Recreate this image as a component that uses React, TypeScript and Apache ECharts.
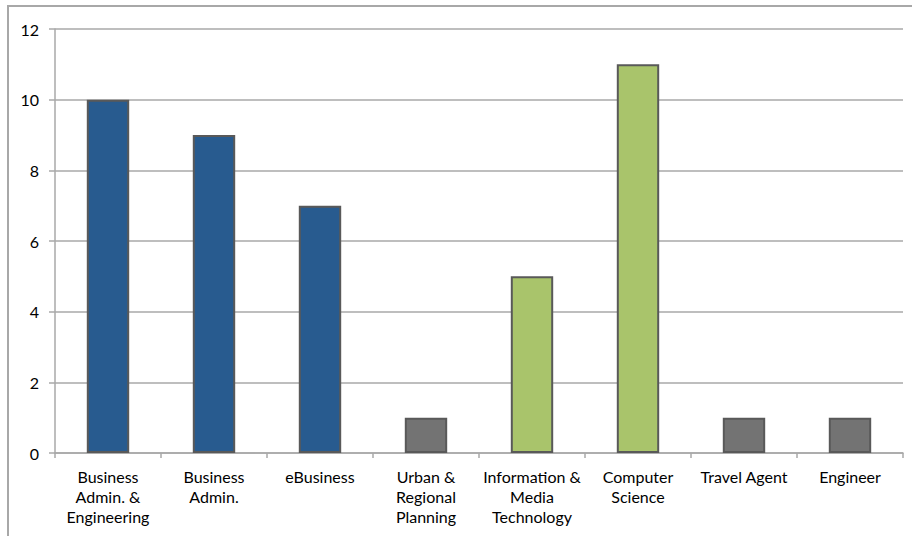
import React, { useEffect, useRef } from "react";
import * as echarts from "echarts";

const categories = [
  "Business\nAdmin. &\nEngineering",
  "Business\nAdmin.",
  "eBusiness",
  "Urban &\nRegional\nPlanning",
  "Information &\nMedia\nTechnology",
  "Computer\nScience",
  "Travel Agent",
  "Engineer",
];
const values = [10, 9, 7, 1, 5, 11, 1, 1];
const groups = ["blue", "blue", "blue", "gray", "green", "green", "gray", "gray"];
const groupColors: Record<string, string> = {
  blue: "#285B8F",
  green: "#A9C46B",
  gray: "#737373",
};
const yTicks = [0, 2, 4, 6, 8, 10, 12];

export default function App() {
  const ref = useRef<HTMLDivElement>(null);
  useEffect(() => {
    if (!ref.current) return;
    const chart = echarts.init(ref.current, null, { renderer: "svg" });
    const font = "Lato, 'Open Sans', sans-serif";
    chart.setOption({
      animation: false,
      backgroundColor: "#ffffff",
      graphic: [
        {
          type: "rect",
          z: 100,
          shape: { x: 8, y: 6, width: 1000, height: 1000 },
          style: { fill: "none", stroke: "#a8a8a8", lineWidth: 2 },
          silent: true,
        },
      ],
      grid: { left: 55, right: 9, top: 29, bottom: 83, containLabel: false },
      xAxis: {
        type: "category",
        data: categories,
        axisLine: { lineStyle: { color: "#a8a8a8", width: 1.5 } },
        axisTick: { show: true, length: 5, lineStyle: { color: "#a8a8a8", width: 1.5 } },
        axisLabel: {
          interval: 0,
          color: "#000",
          fontFamily: font,
          fontSize: 16,
          lineHeight: 20,
          margin: 13,
        },
      },
      yAxis: {
        type: "value",
        min: yTicks[0],
        max: yTicks[yTicks.length - 1],
        interval: 2,
        axisLine: { show: true, lineStyle: { color: "#a8a8a8", width: 1.5 } },
        axisTick: { show: true, length: 6, lineStyle: { color: "#a8a8a8", width: 1.5 } },
        splitLine: { show: true, lineStyle: { color: "#a8a8a8", width: 1.5 } },
        axisLabel: {
          color: "#000",
          fontFamily: font,
          fontSize: 16,
          margin: 16,
        },
      },
      series: [
        {
          type: "bar",
          barWidth: "40%",
          data: values.map((v, i) => ({
            value: v,
            itemStyle: {
              color: groupColors[groups[i]],
              borderColor: "#595959",
              borderWidth: 2,
            },
          })),
        },
      ],
    });
    return () => chart.dispose();
  }, []);
  return (
    <div
      ref={ref}
      style={{ position: "fixed", left: 0, top: 0, width: 912, height: 536 }}
    />
  );
}
